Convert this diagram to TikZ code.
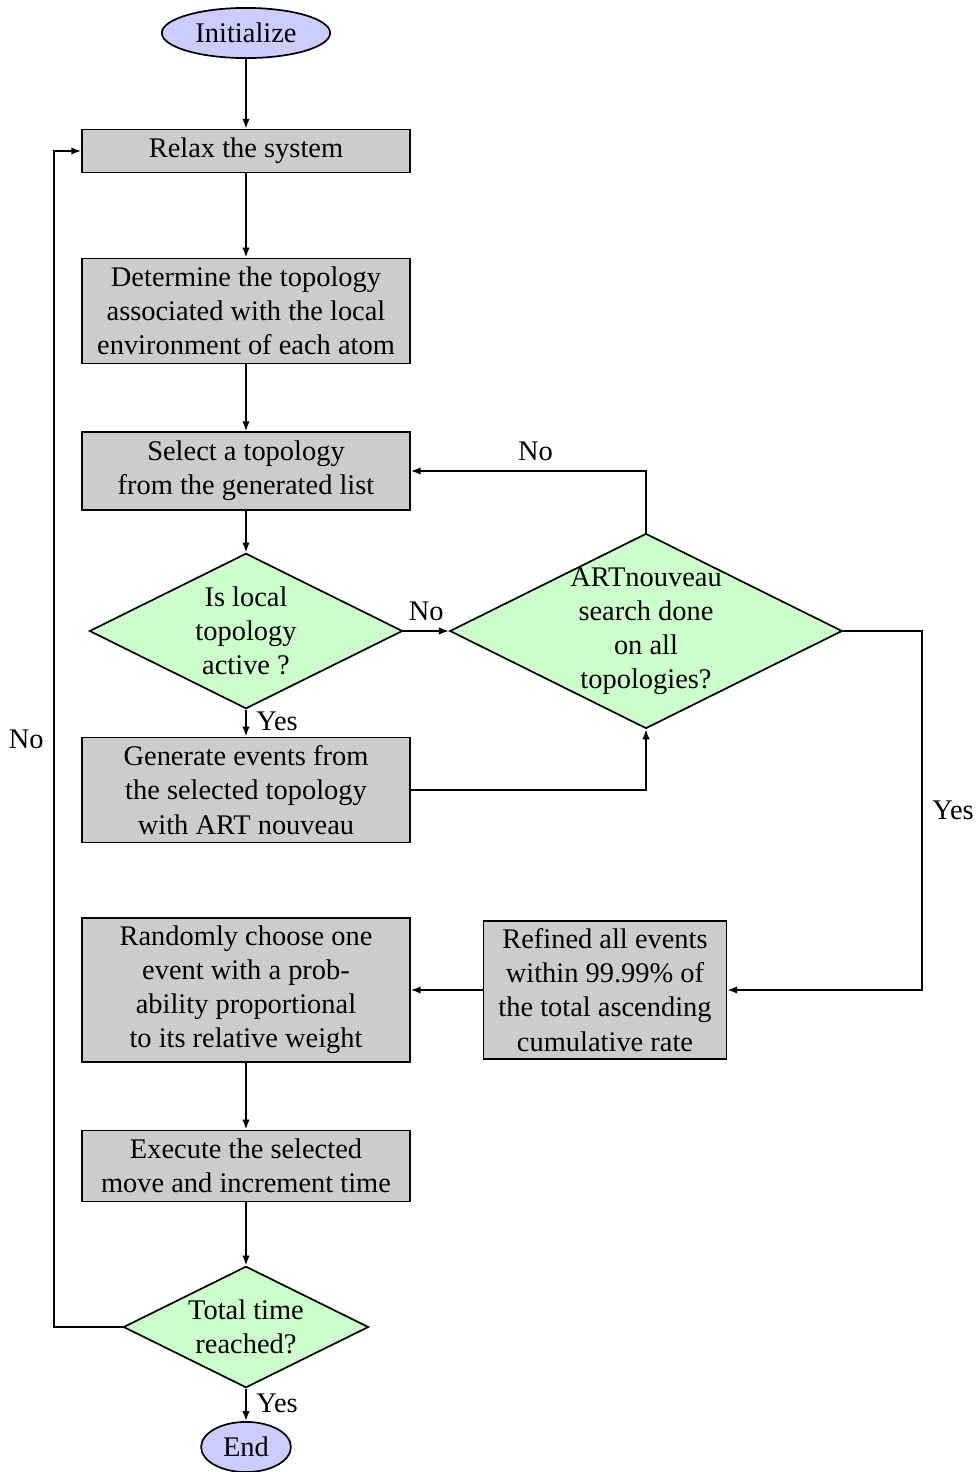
\documentclass[tikz,border=0pt]{standalone}
\usepackage{fontspec}
\setmainfont{Liberation Serif}
\usetikzlibrary{shapes.geometric,arrows.meta}

\tikzset{
  procbox/.style={draw, fill=gray!40, rectangle, align=center, inner sep=0pt, minimum width=4.05cm},
  termnode/.style={draw, fill=blue!20, ellipse, inner sep=0pt, minimum height=0.62cm},
  testnode/.style={draw, fill=green!20, diamond, aspect=2, align=center, inner sep=-0.4cm},
  flow/.style={semithick, -{Latex[length=3.5pt,width=2.6pt]}},
}

\begin{document}
\begin{tikzpicture}[%
x=0.01236cm, y=-0.01236cm,
semithick,
]
\useasboundingbox (0,0) rectangle (977,1472);
%% start and end;
\node [termnode, minimum width=2.08cm] (init) at (246,33) {Initialize};
\node [termnode, minimum width=1.11cm] (stop) at (246,1447) {End};
%% boxes;
\node [procbox, minimum height=0.53cm] (relax) at (246,151) {Relax the system};
\node [procbox, minimum height=1.30cm] (topo) at (246,311) {Determine the topology\\associated with the local\\environment of each atom};
\node [procbox, minimum height=0.96cm] (select) at (246,471) {Select a topology\\from the generated list};
\node [procbox, minimum height=1.30cm] (gen) at (246,790) {Generate events from\\the selected topology\\with ART nouveau};
\node [procbox, minimum height=1.78cm] (pick) at (246,990) {Randomly choose one\\event with a prob-\\ability proportional\\to its relative weight};
\node [procbox, minimum width=3.0cm, minimum height=1.71cm] (refine) at (605,990) {Refined all events\\within 99.99\% of\\the total ascending\\cumulative rate};
\node [procbox, minimum height=0.88cm] (exec) at (246,1166) {Execute the selected\\move and increment time};
%% decisions;
\node [testnode, minimum width=3.87cm, minimum height=1.92cm] (active) at (246,631) {Is local\\topology\\active ?};
\node [testnode, minimum width=4.85cm, minimum height=2.41cm] (done) at (646,631) {ARTnouveau\\search done\\on all\\topologies?};
\node [testnode, minimum width=3.03cm, minimum height=1.50cm] (total) at (246,1327) {Total time\\reached?};
%% bends;
\coordinate (c1) at (646,471);
\coordinate (c2) at (646,790);
\coordinate (c3) at (922,631);
\coordinate (c4) at (922,990);
\coordinate (c5) at (54,1327);
\coordinate (c6) at (54,151);
%% connectors;
\draw [flow] (init) -- (relax);
\draw [flow] (relax) -- (topo);
\draw [flow] (topo) -- (select);
\draw [flow] (select) -- (active);
\draw [flow] (active) -- node [right, pos=0.45] {Yes} (gen);
\draw [flow] (active) -- node [above] {No} (done);
\draw [flow] (done.north) -- (c1) -- node [above, pos=0.47] {No} (select.east);
\draw [flow] (gen.east) -- (c2) -- (done.south);
\draw [flow] (done.east) -- (c3) -- node [right, pos=0.5] {Yes} (c4) -- (refine.east);
\draw [flow] (refine) -- (pick);
\draw [flow] (pick) -- (exec);
\draw [flow] (exec) -- (total);
\draw [flow] (total) -- node [right, pos=0.45] {Yes} (stop);
\draw [flow] (total.west) -- (c5) -- node [left, pos=0.5] {No} (c6) -- (relax.west);
\end{tikzpicture}
\end{document}
